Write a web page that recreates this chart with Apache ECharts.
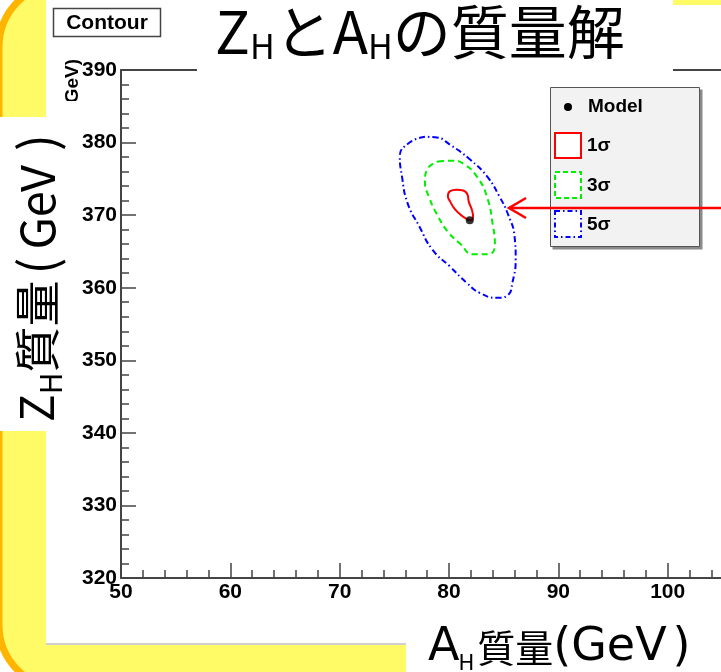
<!DOCTYPE html>
<html>
<head>
<meta charset="utf-8">
<script src="https://cdn.jsdelivr.net/npm/echarts@6/dist/echarts.min.js"></script>
<style>
  html, body { margin: 0; padding: 0; background: #fff; }
  #chart { width: 721px; height: 672px; }
</style>
</head>
<body>
<div id="chart"></div>
<script>
// Axis ranges: [min, max, major interval]
const xRange = [50, 110, 10];
const yRange = [320, 390, 10];

// Best-fit point (A_H mass, Z_H mass) in GeV
const modelPoint = [[81.9, 369.3]];

// Confidence contours, each a closed loop of (A_H, Z_H) points
const sigma1 = [
  [80.7, 373.5], [81.3, 373.4], [81.7, 372.8], [81.8, 371.9], [82.1, 370.7],
  [82.2, 369.8], [82.0, 369.3], [81.7, 369.4], [81.1, 370.0], [80.5, 370.9],
  [80.1, 371.9], [79.9, 372.6], [80.1, 373.3], [80.7, 373.5]
];
const sigma3 = [
  [79.0, 377.4], [80.3, 377.5], [81.4, 377.0], [82.6, 375.2], [83.5, 372.4],
  [84.0, 368.7], [84.2, 365.9], [83.6, 364.6], [82.2, 364.6], [81.0, 366.1],
  [79.9, 367.7], [78.9, 370.1], [78.2, 372.4], [77.8, 374.6], [78.0, 376.3],
  [79.0, 377.4]
];
const sigma5 = [
  [77.8, 380.8], [76.4, 380.0], [75.5, 378.1], [75.7, 375.3], [76.2, 371.7],
  [77.3, 368.4], [78.5, 365.2], [80.1, 362.9], [81.6, 360.7], [82.8, 359.3],
  [84.4, 358.6], [85.4, 359.0], [85.8, 360.7], [86.1, 363.9], [86.0, 367.0],
  [85.4, 370.1], [84.6, 372.6], [83.5, 375.3], [81.9, 377.7], [80.1, 379.7],
  [78.9, 380.7], [77.8, 380.8]
];

const legendLabels = ['Model', '1σ', '3σ', '5σ'];
const frameTitle = 'Contour';

const CJK = '"Noto Sans CJK JP", "Noto Sans", sans-serif';
const WIDE = '"DejaVu Sans", "Noto Sans", sans-serif';
const ROOTFONT = '"Liberation Sans Narrow", "Liberation Sans", Arial, sans-serif';
const LEGFONT = '"Liberation Sans", Arial, sans-serif';

// Title / axis names with subscripts: [text, size, baseline shift, gap before, family]
const titleParts = [['Z', 58, 0, 0, CJK], ['H', 34, 14, 0, CJK], ['と', 58, 0, 0, CJK], ['A', 58, 0, 0, CJK],
                    ['H', 34, 14, 0, CJK], ['の質量解', 58, 0, 0, CJK]];
const xNameParts = [['A', 46, 0, 0, WIDE], ['H', 21, 17, -1, WIDE], ['質量', 38, 0, 3, CJK],
                    ['(GeV', 46, 0, 0, WIDE], [')', 46, 0, 6, WIDE]];
const yNameParts = [['Z', 46, 0, 0, CJK], ['H', 30, 14, 0, CJK], ['質量', 46, 0, 0, CJK],
                    ['(', 50, 0, 6, CJK], ['GeV', 47, 0, 8, CJK], [')', 50, 0, 14, CJK]];

const measureCtx = document.createElement('canvas').getContext('2d');
function textWidth(t, font) { measureCtx.font = font; return measureCtx.measureText(t).width; }

// Lay out a run of text pieces left to right in local coordinates
function textRun(parts, z) {
  let x = 0;
  const children = [];
  parts.forEach(([t, size, dy, gap, family]) => {
    x += gap;
    const font = `${size}px ${family}`;
    children.push({
      type: 'text', x: x, y: dy, z: z,
      style: { text: t, font: font, fill: '#000', align: 'left', verticalAlign: 'middle',
               textAlign: 'left', textVerticalAlign: 'middle' }
    });
    x += textWidth(t, font);
  });
  return children;
}

const AX = '#444';
function axisCommon(range, pos) {
  return {
    type: 'value', min: range[0], max: range[1], interval: range[2], position: pos,
    axisLine: { show: true, onZero: false, lineStyle: { color: AX, width: 2 } },
    axisTick: { show: true, inside: true, length: 15, lineStyle: { color: AX, width: 1.5 } },
    minorTick: { show: true, splitNumber: 5, length: 8, lineStyle: { color: AX, width: 1.5 } },
    splitLine: { show: false },
    minorSplitLine: { show: false },
    axisLabel: { show: true, color: '#000', fontFamily: ROOTFONT, fontWeight: 'bold', fontSize: 21,
                 showMinLabel: true, margin: 4 }
  };
}
function frameEdge(range, pos) {
  return {
    type: 'value', min: range[0], max: range[1], position: pos,
    axisLine: { show: true, onZero: false, lineStyle: { color: AX, width: 2 } },
    axisTick: { show: false }, axisLabel: { show: false }, splitLine: { show: false }
  };
}

const graphics = [
  // slide background: yellow rounded panel with orange rim
  { type: 'rect', z: -100, shape: { x: -1, y: -17, width: 820, height: 706, r: 64 },
    style: { fill: '#FFFB66', stroke: '#FFB400', lineWidth: 7 } },
  // white plot sheet
  { type: 'rect', z: -90, shape: { x: 46, y: 5, width: 675, height: 638 }, style: { fill: '#fff' } },
  { type: 'rect', z: -90, shape: { x: 46, y: 0, width: 627, height: 10 }, style: { fill: '#fff' } },
  { type: 'line', z: -89, shape: { x1: 46, y1: 644, x2: 406, y2: 644 }, style: { stroke: '#cfcfcf', lineWidth: 2 } },
  // text boxes for the axis names
  { type: 'rect', z: -90, shape: { x: 0, y: 117, width: 46, height: 314 }, style: { fill: '#fff' } },
  { type: 'rect', z: -90, shape: { x: 406, y: 612, width: 315, height: 60 }, style: { fill: '#fff' } },

  // small frame y-title, partly hidden under the axis-name box
  { type: 'text', z: 20, x: 73, y: 59, rotation: Math.PI / 2,
    style: { text: '(GeV)', font: `bold 19px ${LEGFONT}`, fill: '#000', align: 'right', verticalAlign: 'middle',
             textAlign: 'right', textVerticalAlign: 'middle' } },
  { type: 'rect', z: 21, shape: { x: 55, y: 101, width: 30, height: 30 }, style: { fill: '#fff' } },

  // frame title box
  { type: 'rect', z: 20, shape: { x: 53.5, y: 8.5, width: 107, height: 28 },
    style: { fill: '#fff', stroke: '#444', lineWidth: 1.5 } },
  { type: 'text', z: 21, x: 107, y: 23,
    style: { text: frameTitle, font: `bold 21px ${LEGFONT}`, fill: '#000', align: 'center', verticalAlign: 'middle',
             textAlign: 'center', textVerticalAlign: 'middle' } },

  // title box and title
  { type: 'rect', z: 30, shape: { x: 197, y: 0, width: 476, height: 72 }, style: { fill: '#fff' } },
  { type: 'group', x: 215, y: 32, z: 31, children: textRun(titleParts, 31) },

  // axis names
  { type: 'group', x: 428, y: 648, z: 31, children: textRun(xNameParts, 31) },
  { type: 'group', x: 37, y: 422, rotation: Math.PI / 2, z: 31, children: textRun(yNameParts, 31) },

  // legend
  { type: 'rect', z: 40, shape: { x: 552.5, y: 89.5, width: 150, height: 160 }, style: { fill: '#8a8a8a' } },
  { type: 'rect', z: 41, shape: { x: 550.5, y: 87.5, width: 149, height: 159 },
    style: { fill: '#f2f2f2', stroke: '#555', lineWidth: 1 } },
  { type: 'circle', z: 42, shape: { cx: 568, cy: 107, r: 4 }, style: { fill: '#000' } },
  { type: 'rect', z: 42, shape: { x: 555, y: 133, width: 26, height: 25 },
    style: { fill: '#fff', stroke: '#ff0000', lineWidth: 2 } },
  { type: 'rect', z: 42, shape: { x: 555, y: 172, width: 26, height: 26 },
    style: { fill: '#fff', stroke: '#00ee00', lineWidth: 2, lineDash: [5, 3] } },
  { type: 'rect', z: 42, shape: { x: 555, y: 211, width: 26, height: 26 },
    style: { fill: '#fff', stroke: '#0000ff', lineWidth: 2, lineDash: [5, 3, 1.5, 3] } }
];
legendLabels.forEach((t, i) => {
  graphics.push({ type: 'text', z: 42, x: i === 0 ? 588 : 587, y: [107, 146, 186, 225][i],
    style: { text: t, font: `bold 19px ${LEGFONT}`, fill: '#000', align: 'left', verticalAlign: 'middle',
             textAlign: 'left', textVerticalAlign: 'middle' } });
});
// pointer arrow toward the contours
graphics.push(
  { type: 'polyline', z: 50, shape: { points: [[721, 208], [509, 208]] }, style: { stroke: '#ff0000', lineWidth: 2.5, fill: null } },
  { type: 'polyline', z: 50, shape: { points: [[526, 198], [509, 208], [526, 218]] }, style: { stroke: '#ff0000', lineWidth: 2.5, fill: null } }
);

const chart = echarts.init(document.getElementById('chart'), null, { renderer: 'canvas' });
chart.setOption({
  animation: false,
  backgroundColor: '#fff',
  grid: { left: 121, right: -56, top: 70, bottom: 94, containLabel: false, outerBoundsMode: 'none' },
  xAxis: [axisCommon(xRange, 'bottom'), frameEdge(xRange, 'top')],
  yAxis: [axisCommon(yRange, 'left'), frameEdge(yRange, 'right')],
  graphic: { elements: graphics },
  series: [
    { type: 'line', data: sigma5, smooth: 0.5, symbol: 'none', z: 3,
      lineStyle: { color: '#0000ff', width: 2, type: [6, 3, 1.5, 3] } },
    { type: 'line', data: sigma3, smooth: 0.5, symbol: 'none', z: 3,
      lineStyle: { color: '#00ee00', width: 2, type: [6, 4] } },
    { type: 'line', data: sigma1, smooth: 0.5, symbol: 'none', z: 3,
      lineStyle: { color: '#ff0000', width: 2, type: 'solid' } },
    { type: 'scatter', data: modelPoint, symbol: 'circle', symbolSize: 8, z: 4,
      itemStyle: { color: '#000' } }
  ]
});
</script>
</body>
</html>
